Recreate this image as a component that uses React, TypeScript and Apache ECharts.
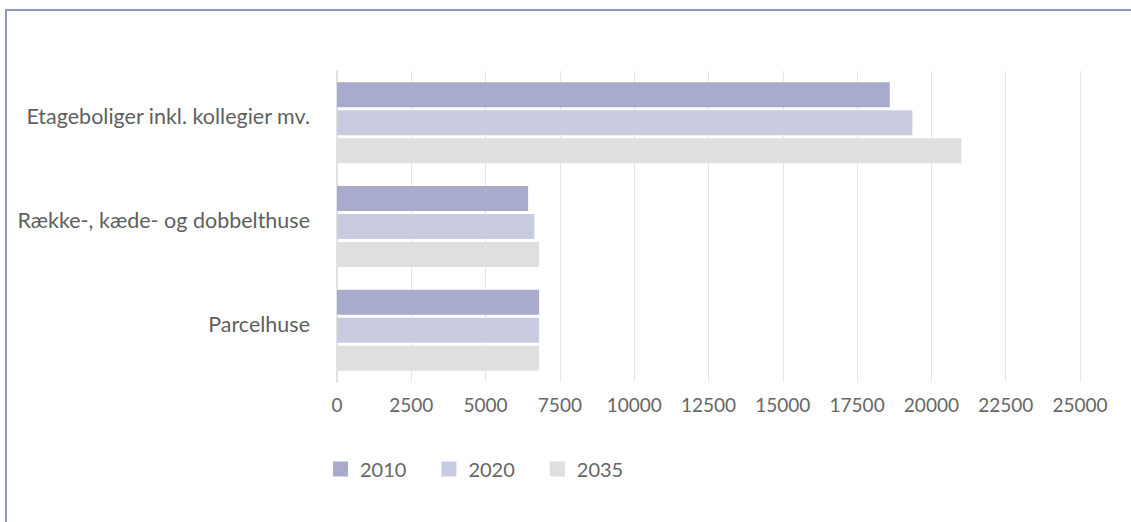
import React, { useEffect, useRef } from "react";
import * as echarts from "echarts";

const categories = ["Parcelhuse", "Række-, kæde- og dobbelthuse", "Etageboliger inkl. kollegier mv."];
const seriesNames = ["2010", "2020", "2035"];
const values2010 = [6800, 6430, 18600];
const values2020 = [6800, 6640, 19360];
const values2035 = [6800, 6800, 21010];
const colors = ["#a8abcb", "#c9cce0", "#dfdfdf"];

export default function App() {
  const ref = useRef<HTMLDivElement>(null);
  useEffect(() => {
    if (!ref.current) return;
    const chart = echarts.init(ref.current, undefined, { renderer: "svg" });
    const font = "Lato";
    const data = [values2010, values2020, values2035];
    chart.setOption({
      animation: false,
      backgroundColor: "transparent",
      grid: { left: 337, right: 51, top: 71, bottom: 140, containLabel: false },
      legend: {
        bottom: 38,
        left: 328,
        itemWidth: 15,
        itemHeight: 15,
        itemGap: 35,
        icon: "rect",
        data: seriesNames,
        textStyle: { fontFamily: font, fontSize: 20, color: "#666666", padding: [0, 0, 0, 7] },
      },
      xAxis: {
        type: "value",
        min: 0,
        max: 25000,
        interval: 2500,
        axisLine: { show: false },
        axisTick: { show: false },
        splitLine: { show: true, lineStyle: { color: "#e6e6e6", width: 1 } },
        axisLabel: {
          fontFamily: font,
          fontSize: 19,
          color: "#666666",
          margin: 13,
          formatter: (v: number) => String(v),
        },
      },
      yAxis: {
        type: "category",
        data: categories,
        axisLine: { show: true, lineStyle: { color: "#e2e2e2", width: 2 } },
        axisTick: { show: false },
        axisLabel: {
          margin: 27,
          formatter: (v: string) => "{a|" + v + "}",
          rich: {
            a: {
              fontFamily: font,
              fontSize: 21.5,
              color: "#5f5f5f",
              padding: [0, 0, 13, 0],
            },
          },
        },
      },
      series: seriesNames.map((name, i) => ({
        name,
        type: "bar",
        data: data[i],
        barWidth: 25,
        barGap: "12%",
        itemStyle: { color: colors[i] },
      })),
    });
    return () => chart.dispose();
  }, []);
  return (
    <div style={{ position: "fixed", left: 0, top: 0, width: 1131, height: 522, overflow: "hidden", background: "#fff" }}>
      <div
        style={{
          position: "absolute",
          left: 5,
          top: 9,
          width: 2000,
          height: 2000,
          borderLeft: "2px solid #8e98c3",
          borderTop: "2px solid #8e98c3",
        }}
      />
      <div ref={ref} style={{ position: "absolute", left: 0, top: 0, width: 1131, height: 522 }} />
    </div>
  );
}
